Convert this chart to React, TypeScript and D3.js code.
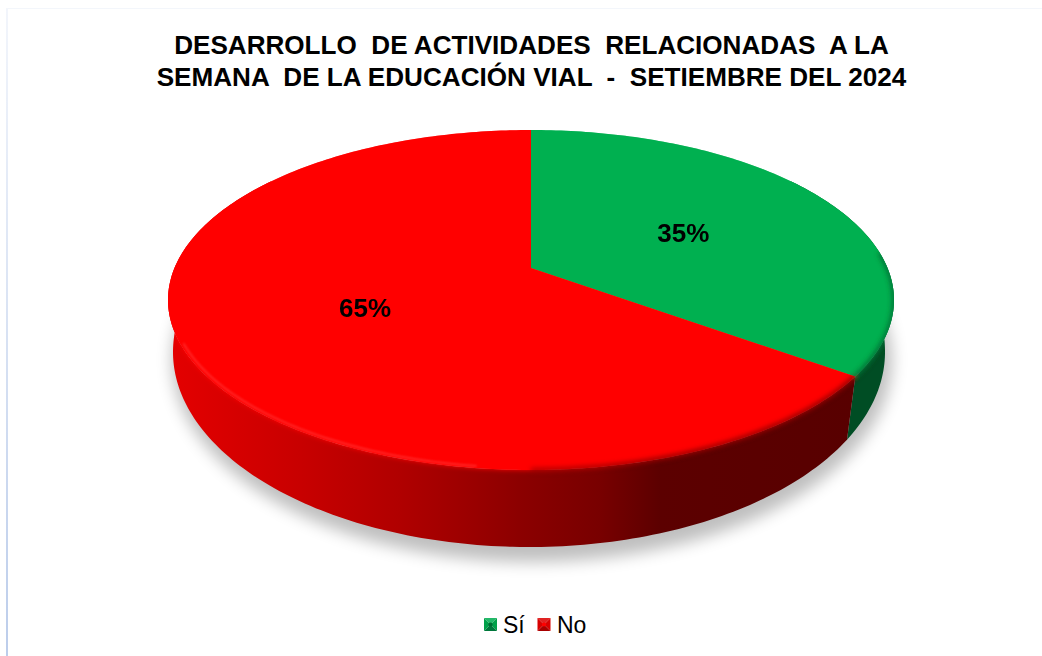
import React from "react";
import * as d3 from "d3";

const categories = ["Sí", "No"];
const values = [35, 65];
const labels = ["35%", "65%"];
const titleLines = [
  "DESARROLLO  DE ACTIVIDADES  RELACIONADAS  A LA",
  "SEMANA  DE LA EDUCACIÓN VIAL  -  SETIEMBRE DEL 2024",
];
const topColors = ["#00b050", "#ff0000"];
const sideStops: [number, string][] = [
  [0, "#e40000"],
  [0.19, "#c80000"],
  [0.336, "#b00000"],
  [0.51, "#8c0000"],
  [0.628, "#780000"],
  [0.715, "#5c0000"],
  [1, "#580000"],
];

const W = 1042;
const H = 656;
const FONT = "'Liberation Sans', Arial, sans-serif";
const persp = -0.188;
const topRim = { cx: 531, cy: 300, rx: 363, ry: 170 };
const botRim = { cx: 529, cy: 352, rx: 356, ry: 195 };

type Rim = typeof topRim;
function project(angle: number, r: number, e: Rim): [number, number] {
  const u = r * Math.sin(angle);
  const v = -r * Math.cos(angle);
  const w = 1 + persp * v;
  return [
    e.cx + (e.rx * Math.sqrt(1 - persp * persp) * u) / w,
    e.cy + (e.ry * (v + persp)) / w,
  ];
}

const line = d3.line<[number, number]>();
const pieGen = d3.pie<number>().sort(null)(values);

function sweep(a: number, b: number): number[] {
  const n = Math.max(2, Math.ceil(Math.abs(b - a) * 60));
  return d3.range(n + 1).map((i) => a + ((b - a) * i) / n);
}
function wedgePath(a: number, b: number): string {
  const pts = sweep(a, b).map((t) => project(t, 1, topRim));
  return line([project(0, 0, topRim), ...pts])! + "Z";
}
function sidePath(a: number, b: number): string {
  const t = sweep(a, b);
  return line([
    ...t.map((x) => project(x, 1, topRim)),
    ...t.slice().reverse().map((x) => project(x, 1, botRim)),
  ])! + "Z";
}
function rimPath(a: number, b: number, r: number): string {
  return line(sweep(a, b).map((t) => project(t, r, topRim)))!;
}

const frontStart = Math.PI * 0.3;
const frontEnd = Math.PI * 1.7;
const allAround = line(sweep(0, 2 * Math.PI).map((t) => project(t, 1, topRim)))! + "Z";
const seam = pieGen[0].endAngle;

function Marker({ x, y, s, c, top, bottom, mid }: { x: number; y: number; s: number; c: string; top: string; bottom: string; mid: string }) {
  const m: [number, number] = [x + s / 2, y + s / 2];
  const a: [number, number] = [x, y];
  const b: [number, number] = [x + s, y];
  const d: [number, number] = [x + s, y + s];
  const e: [number, number] = [x, y + s];
  return (
    <g filter="url(#markerSoft)">
      <path d={line([a, b, m])! + "Z"} fill={top} />
      <path d={line([b, d, m])! + "Z"} fill={c} />
      <path d={line([d, e, m])! + "Z"} fill={bottom} />
      <path d={line([e, a, m])! + "Z"} fill={c} />
      <circle cx={m[0]} cy={m[1]} r={s * 0.16} fill={mid} />
    </g>
  );
}

export default function App() {
  return (
    <svg
      width={W}
      height={H}
      viewBox={`0 0 ${W} ${H}`}
      style={{ position: "absolute", left: 0, top: 0, display: "block", background: "#fff" }}
    >
      <defs>
        <linearGradient id="leftLine" x1="0" y1="0" x2="0" y2="1">
          <stop offset="0" stopColor="#f2f5fb" />
          <stop offset="0.45" stopColor="#dbe4f4" />
          <stop offset="1" stopColor="#bccdeb" />
        </linearGradient>
        <linearGradient id="redSide" gradientUnits="userSpaceOnUse" x1="170" y1="0" x2="855" y2="0">
          {sideStops.map(([o, c], i) => (
            <stop key={i} offset={o} stopColor={c} />
          ))}
        </linearGradient>
        <filter id="shadow" x="-20%" y="-20%" width="140%" height="140%">
          <feGaussianBlur stdDeviation="8" />
        </filter>
        <filter id="soft" x="-10%" y="-10%" width="120%" height="120%">
          <feGaussianBlur stdDeviation="2.4" />
        </filter>
        <filter id="glow" x="-10%" y="-10%" width="120%" height="120%">
          <feGaussianBlur stdDeviation="1.2" />
        </filter>
        <filter id="markerSoft" x="-20%" y="-20%" width="140%" height="140%">
          <feGaussianBlur stdDeviation="0.6" />
        </filter>
        <clipPath id="discClip">
          <path d={allAround} />
          <path d={sidePath(frontStart, frontEnd)} />
        </clipPath>
      </defs>

      <rect x={6} y={8} width={2} height={H - 8} fill="url(#leftLine)" />
      <rect x={6} y={8} width={W - 6} height={1} fill="#f3f6fb" />

      <g fontFamily={FONT} fontWeight="bold" fontSize={26.1} fill="#000" textAnchor="middle">
        {titleLines.map((t, i) => (
          <text key={i} x={531.5} y={53.5 + i * 32} xmlSpace="preserve" style={{ whiteSpace: "pre" }}>
            {t}
          </text>
        ))}
      </g>

      <ellipse
        cx={botRim.cx + 3}
        cy={botRim.cy + 8}
        rx={botRim.rx + 4}
        ry={botRim.ry + 7}
        fill="#000"
        opacity={0.25}
        filter="url(#shadow)"
      />

      <path d={sidePath(frontStart, seam)} fill="#004d24" />
      <path d={sidePath(seam, frontEnd)} fill="url(#redSide)" />

      <g clipPath="url(#discClip)">
        <g filter="url(#soft)">
          {pieGen.map((d, i) => (
            <path key={i} d={wedgePath(d.startAngle, d.endAngle)} fill={topColors[i]} />
          ))}
        </g>
      </g>
      {pieGen.map((d, i) => (
        <path key={i} d={wedgePath(d.startAngle, d.endAngle)} fill={topColors[i]} />
      ))}

      <g clipPath="url(#discClip)" filter="url(#soft)" fill="none" strokeWidth={3.5}>
        <path d={rimPath(Math.PI * 0.47, seam, 1)} stroke="#004d24" opacity={0.8} />
        <path d={rimPath(seam, Math.PI, 1)} stroke="url(#redSide)" opacity={0.8} />
      </g>
      <path
        d={rimPath(Math.PI * 1.04, Math.PI * 1.36, 0.992)}
        fill="none"
        stroke="#ff4a4a"
        strokeWidth={2}
        opacity={0.55}
        filter="url(#glow)"
      />

      <g fontFamily={FONT} fontWeight="bold" fontSize={26} fill="#000" textAnchor="middle">
        {pieGen.map((d, i) => {
          const [x, y] = project((d.startAngle + d.endAngle) / 2, 0.5, topRim);
          return (
            <text key={i} x={x} y={y + 10}>
              {labels[i]}
            </text>
          );
        })}
      </g>

      <Marker x={484} y={618} s={13} c="#00a04a" top="#20b868" bottom="#00763a" mid="#006a32" />
      <Marker x={537.5} y={618} s={13} c="#d80000" top="#e02020" bottom="#a80000" mid="#ff0000" />
      <g fontFamily={FONT} fontSize={23} fill="#000">
        <text x={503} y={633}>{categories[0]}</text>
        <text x={557} y={633}>{categories[1]}</text>
      </g>
    </svg>
  );
}
